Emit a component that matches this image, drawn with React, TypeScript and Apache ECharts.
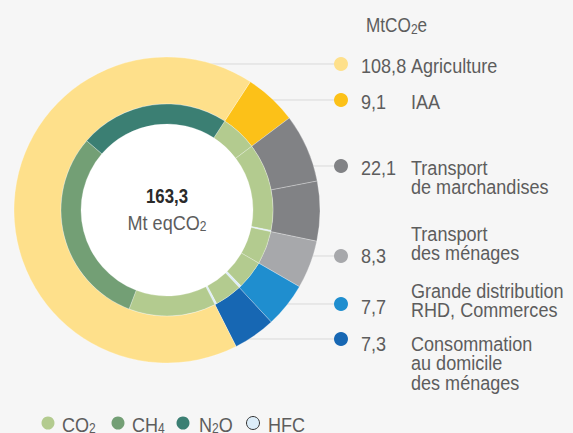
import React, { useEffect, useRef } from "react";
import * as echarts from "echarts";

// ---- data ----
const sectorNames = [
  "Agriculture",
  "IAA",
  "Transport\nde marchandises",
  "Transport\ndes ménages",
  "Grande distribution\nRHD, Commerces",
  "Consommation\nau domicile\ndes ménages",
];
const sectorValues = [108.8, 9.1, 22.1, 8.3, 7.7, 7.3];
const sectorColors = ["#fee08b", "#fcc118", "#818285", "#a7a8ab", "#1f8ecf", "#1767b3"];
const freightParts = [11.8, 10.3];

const gasNames = ["CO2", "CH4", "N2O", "HFC"];
const gasColors = ["#b3cb8f", "#739f75", "#3b7f73", "#dcedf9"];
// per sector (same order as sectorNames)
const co2 = [21.7, 9.1, 21.8, 8.3, 7.1, 6.8];
const ch4 = [49.8, 0, 0, 0, 0, 0];
const n2o = [37.3, 0, 0, 0, 0, 0];
const hfc = [0, 0, 0.3, 0, 0.6, 0.5];

const totalValue = 163.3;
const totalUnit = "Mt eqCO2";
const unitTitle = "MtCO2e";

// ---- layout ----
const FONT = "'Liberation Sans', Arial, sans-serif";
const SX = 0.86; // horizontal squeeze to mimic a condensed face
const CX = 167;
const CY = 210;
const ringOrder = [1, 2, 3, 4, 5, 0];
const dotY = [64, 100, 166, 256, 304, 339];
const valueY = [65, 101, 167, 255, 306, 343];
const labelY = [65, 101, 167, 233, 290, 343];
const legendDotX = [48, 118, 183, 253];
const legendTextX = [62, 132, 199, 268];

const fmt = (v: number) => v.toFixed(1).replace(".", ",");
const sub = (s: string) => "{a|" + s.replace(/(\d)/g, "}{s|$1}{a|") + "}";

export default function App() {
  const ref = useRef<HTMLDivElement>(null);
  useEffect(() => {
    document.body.style.margin = "0";
    const chart = echarts.init(ref.current!, undefined, { renderer: "svg" });

    const outerData: any[] = [];
    ringOrder.forEach((i) => {
      const parts = i === 2 ? freightParts : [sectorValues[i]];
      parts.forEach((v) =>
        outerData.push({ value: v, name: sectorNames[i], itemStyle: { color: sectorColors[i] } })
      );
    });
    const gasArrays = [co2, ch4, n2o, hfc];
    const innerData: any[] = [];
    ringOrder.forEach((i) => {
      gasArrays.forEach((arr, g) => {
        if (arr[i] > 0)
          innerData.push({ value: arr[i], name: gasNames[g], itemStyle: { color: gasColors[g] } });
      });
    });

    const textFill = "#5d5d5d";
    const rich = (size: number, fill: string) => ({
      a: { fontSize: size, fontFamily: FONT, fill },
      s: { fontSize: Math.round(size * 0.68), fontFamily: FONT, fill, padding: [Math.round(size * 0.45), 0, 0, 0] },
    });

    const graphics: any[] = [];
    // white hole
    graphics.push({ type: "circle", z: 1, shape: { cx: CX, cy: CY, r: 87 }, style: { fill: "#ffffff" } });
    // right legend
    sectorNames.forEach((name, i) => {
      graphics.push({
        type: "line",
        z: 0,
        shape: { x1: CX, y1: dotY[i], x2: 336, y2: dotY[i] },
        style: { stroke: "#d9d9d9", lineWidth: 1 },
      });
      graphics.push({
        type: "circle",
        z: 3,
        shape: { cx: 341, cy: dotY[i], r: 7 },
        style: { fill: sectorColors[i] },
      });
      graphics.push({
        type: "text",
        z: 3,
        x: 361,
        y: valueY[i],
        scaleX: SX,
        style: { text: fmt(sectorValues[i]), fontSize: 21, fontFamily: FONT, fill: textFill, verticalAlign: "middle" },
      });
      graphics.push({
        type: "text",
        z: 3,
        x: 411,
        y: labelY[i] - 10,
        scaleX: SX,
        style: { text: name, fontSize: 21, lineHeight: 20, fontFamily: FONT, fill: textFill, verticalAlign: "top" },
      });
    });
    graphics.push({
      type: "text",
      z: 3,
      x: 366,
      y: 25,
      scaleX: SX,
      style: { text: sub(unitTitle), rich: rich(20, textFill), verticalAlign: "middle" },
    });
    // center
    graphics.push({
      type: "text",
      z: 4,
      x: CX,
      y: 196,
      scaleX: 0.84,
      style: { text: fmt(totalValue), fontSize: 20, fontWeight: "bold", fontFamily: FONT, fill: "#2a2a2a", align: "center", verticalAlign: "middle" },
    });
    graphics.push({
      type: "text",
      z: 4,
      x: CX,
      y: 222,
      scaleX: SX,
      style: { text: sub(totalUnit), rich: rich(21, textFill), align: "center", verticalAlign: "middle" },
    });
    // bottom legend
    gasNames.forEach((g, k) => {
      graphics.push({
        type: "circle",
        z: 3,
        shape: { cx: legendDotX[k], cy: 423, r: 6.5 },
        style: { fill: gasColors[k], stroke: k === 3 ? "#333" : null, lineWidth: k === 3 ? 1 : 0 },
      });
      graphics.push({
        type: "text",
        z: 3,
        x: legendTextX[k],
        y: 424,
        scaleX: SX,
        style: { text: sub(g), rich: rich(21, textFill), verticalAlign: "middle" },
      });
    });

    chart.setOption({
      animation: false,
      backgroundColor: "#f6f6f6",
      graphic: { elements: graphics },
      series: [
        {
          type: "pie",
          z: 2,
          silent: true,
          center: [CX, CY],
          radius: [106, 153],
          startAngle: 57,
          clockwise: true,
          label: { show: false },
          labelLine: { show: false },
          emphasis: { disabled: true },
          itemStyle: { borderColor: "rgba(255,255,255,0.45)", borderWidth: 0.6 },
          data: outerData,
        },
        {
          type: "pie",
          z: 2,
          silent: true,
          center: [CX, CY],
          radius: [86, 106],
          startAngle: 57,
          clockwise: true,
          label: { show: false },
          labelLine: { show: false },
          emphasis: { disabled: true },
          itemStyle: { borderColor: "rgba(255,255,255,0.45)", borderWidth: 0.6 },
          data: innerData,
        },
      ],
    });
    return () => chart.dispose();
  }, []);
  return <div ref={ref} style={{ width: 573, height: 433 }} />;
}
